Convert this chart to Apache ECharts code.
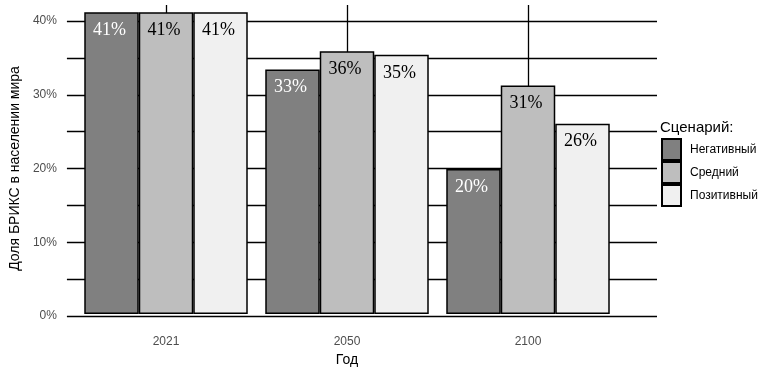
<!DOCTYPE html>
<html><head><meta charset="utf-8">
<script src="https://cdn.jsdelivr.net/npm/echarts@6/dist/echarts.min.js"></script>
<style>html,body{margin:0;padding:0;background:#fff}#c{width:767px;height:372px}</style>
</head><body><div id="c"></div>
<script>
const years = ['2021', '2050', '2100'];
const seriesNames = ['Негативный', 'Средний', 'Позитивный'];
const negative = [41.2, 33.4, 19.8];
const medium = [41.2, 35.9, 31.2];
const positive = [41.2, 35.4, 26.0];
const labelsNeg = ['41%', '33%', '20%'];
const labelsMed = ['41%', '36%', '31%'];
const labelsPos = ['41%', '35%', '26%'];
const yTicks = [0, 10, 20, 30, 40];

const colors = ['#808080', '#bebebe', '#f0f0f0'];
const labelColors = ['#ffffff', '#000000', '#000000'];
const dataSets = [negative, medium, positive];
const labelSets = [labelsNeg, labelsMed, labelsPos];

const chart = echarts.init(document.getElementById('c'));
const TOP = 5, BOTTOM = 56, YMAX = 42.2;
const TOP40 = 21;

const bars = seriesNames.map((n, i) => ({
  name: n, type: 'bar', xAxisIndex: 1, yAxisIndex: 1, z: 3,
  barWidth: 54.5, barGap: '0%',
  itemStyle: { color: colors[i], borderColor: '#000', borderWidth: 1.5 },
  label: {
    show: true, position: 'insideTop', distance: 9, offset: [-2, 0],
    fontFamily: 'Liberation Serif', fontSize: 18, color: labelColors[i],
    formatter: p => labelSets[i][p.dataIndex]
  },
  data: dataSets[i]
}));

chart.setOption({
  animation: false,
  title: { text: 'Сценарий:', left: 655, top: 115, textStyle: { fontFamily: 'Liberation Sans', fontSize: 15, fontWeight: 'normal', color: '#000' } },
  legend: {
    data: seriesNames, orient: 'vertical', left: 656, top: 133,
    itemWidth: 19, itemHeight: 21, itemGap: 0, icon: 'rect',
    textStyle: { fontFamily: 'Liberation Sans', fontSize: 12, color: '#000', padding: [0, 0, 0, 4] }
  },
  grid: [
    { left: 60, width: 597, top: TOP40, bottom: BOTTOM },
    { left: 75.5, width: 543, top: TOP, bottom: BOTTOM }
  ],
  xAxis: [
    { type: 'value', gridIndex: 0, min: 0, max: 1, show: false },
    { type: 'category', gridIndex: 1, data: years,
      axisLine: { show: false }, axisTick: { show: false }, splitLine: { show: false },
      axisLabel: { margin: 22, fontFamily: 'Liberation Sans', fontSize: 12, color: '#4d4d4d' },
      name: 'Год', nameLocation: 'middle', nameGap: 34,
      nameTextStyle: { fontFamily: 'Liberation Sans', fontSize: 14, color: '#000' } }
  ],
  yAxis: [
    { type: 'value', gridIndex: 0, min: 0, max: 40, interval: 10,
      axisLine: { show: false }, axisTick: { show: false },
      axisLabel: { margin: 10, fontFamily: 'Liberation Sans', fontSize: 12, color: '#4d4d4d',
        formatter: v => (yTicks.indexOf(v) >= 0 ? v + '%' : '') },
      splitLine: { show: true, lineStyle: { color: '#000', width: 1.3 } },
      minorTick: { show: false, splitNumber: 2 },
      minorSplitLine: { show: true, lineStyle: { color: '#000', width: 1.3 } },
      name: 'Доля БРИКС в населении мира', nameLocation: 'middle', nameGap: 40,
      nameTextStyle: { fontFamily: 'Liberation Sans', fontSize: 14, color: '#000' } },
    { type: 'value', gridIndex: 1, min: 0, max: YMAX, show: false, splitLine: { show: false } }
  ],
  series: [
    { type: 'line', xAxisIndex: 1, yAxisIndex: 1, z: 1, data: [], silent: true,
      markLine: { silent: true, z: 1, symbol: 'none', label: { show: false },
        lineStyle: { color: '#000', width: 1.3, type: 'solid' },
        data: years.map(y => ({ xAxis: y })) } }
  ].concat(bars)
});
</script></body></html>
